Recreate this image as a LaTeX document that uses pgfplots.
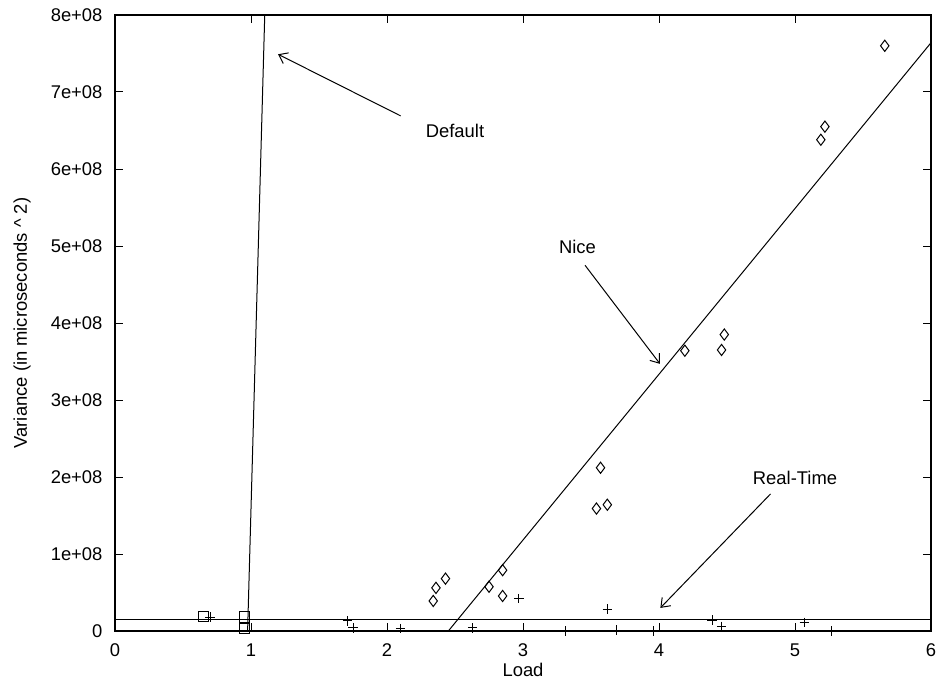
\documentclass[border=0pt]{standalone}
\usepackage{pgfplots}
\pgfplotsset{compat=1.18}
\usepackage{fontspec}
\setmainfont{Liberation Sans}
\usetikzlibrary{arrows.meta}
\begin{document}
\fontsize{9.2}{11}\selectfont
\begin{tikzpicture}
\begin{axis}[
  scale only axis, width=408pt, height=308pt,
  xmin=0, xmax=6, ymin=0, ymax=8e8,
  xtick={0,1,2,3,4,5,6},
  ytick={0,1e8,2e8,3e8,4e8,5e8,6e8,7e8,8e8},
  yticklabels={0,1e+08,2e+08,3e+08,4e+08,5e+08,6e+08,7e+08,8e+08},
  scaled y ticks=false,
  /pgf/number format/assume math mode=true,
  tick align=inside, major tick length=4pt,
  tick style={line width=0.5pt, black},
  axis line style={line width=0.6pt},
  xlabel={Load}, ylabel={Variance (in microseconds \string^ 2)},
  xlabel style={at={(axis description cs:0.5,0)}, anchor=center, yshift=-19.5pt},
  ylabel style={at={(axis description cs:0,0.5)}, anchor=center, yshift=46.5pt},
  tick label style={font=\fontsize{9.2}{11}\selectfont},
  label style={font=\fontsize{9.2}{11}\selectfont},
  xticklabel style={anchor=center, yshift=-9.5pt},
  yticklabel style={anchor=east, xshift=-3pt},
  clip=true,
]
% Default fit
\addplot[black, line width=0.5pt] coordinates {(0.975,0) (1.101,8.0e8)};
% Nice fit
\addplot[black, line width=0.5pt] coordinates {(2.451,0) (6,7.64e8)};
% Real-Time fit
\addplot[black, line width=0.5pt] coordinates {(0,0.152e8) (6,0.152e8)};
% Default data
\addplot[only marks, mark=square, mark size=2.6pt, line width=0.5pt] coordinates {
(0.65,0.186e8) (0.95,0.18e8) (0.95,0.03e8)};
% Nice data
\addplot[only marks, mark=diamond, mark size=2.8pt, line width=0.5pt] coordinates {
(2.34,0.39e8) (2.36,0.56e8) (2.43,0.68e8) (2.75,0.575e8) (2.85,0.79e8) (2.85,0.455e8)
(3.57,2.12e8) (3.54,1.59e8) (3.62,1.64e8) (4.19,3.64e8) (4.48,3.85e8) (4.46,3.65e8)
(5.66,7.60e8) (5.22,6.55e8) (5.19,6.38e8)};
% Real-Time data
\addplot[only marks, mark=+, mark size=2.4pt, line width=0.5pt] coordinates {
(0.70,0.18e8) (1.71,0.13e8) (1.75,0.04e8) (2.10,0.03e8) (2.63,0.04e8) (2.97,0.42e8)
(3.31,0.0) (3.62,0.285e8) (3.69,0.01e8) (3.96,0.0) (4.39,0.14e8) (4.46,0.06e8)
(5.07,0.11e8) (5.27,0.0)};
% annotations
\draw[-{Straight Barb[length=4pt,width=6pt]}, line width=0.5pt] (axis cs:2.10,6.69e8) -- (axis cs:1.199,7.49e8);
\node at (axis cs:2.50,6.49e8) {Default};
\draw[-{Straight Barb[length=4pt,width=6pt]}, line width=0.5pt] (axis cs:3.456,4.75e8) -- (axis cs:4.007,3.47e8);
\node at (axis cs:3.40,4.99e8) {Nice};
\draw[-{Straight Barb[length=4pt,width=6pt]}, line width=0.5pt] (axis cs:4.82,1.78e8) -- (axis cs:4.01,0.30e8);
\node at (axis cs:5.0,1.99e8) {Real-Time};
\end{axis}
\pgfresetboundingbox
\path ([xshift=-57.5pt,yshift=-24pt]current axis.south west) rectangle ([xshift=3.5pt,yshift=7.5pt]current axis.north east);
\end{tikzpicture}
\end{document}
